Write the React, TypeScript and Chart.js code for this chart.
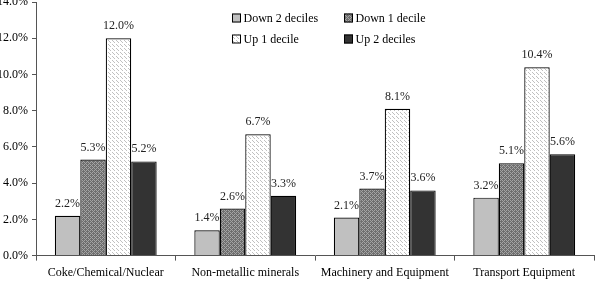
import React, { useEffect, useRef } from "react";
import { Chart, registerables } from "chart.js";
Chart.register(...registerables);

const categories = ["Coke/Chemical/Nuclear", "Non-metallic minerals", "Machinery and Equipment", "Transport Equipment"];
const seriesLabels = ["Down 2 deciles", "Down 1 decile", "Up 1 decile", "Up 2 deciles"];
const down2 = [2.2, 1.4, 2.1, 3.2];
const down1 = [5.3, 2.6, 3.7, 5.1];
const up1 = [12.0, 6.7, 8.1, 10.4];
const up2 = [5.2, 3.3, 3.6, 5.6];
const yMin = 0;
const yMax = 14;
const yStep = 2;

const FONT = "'Liberation Serif', Tinos, 'Times New Roman', serif";

function makePattern(bg: string, dot: string, size: number, dots: number[][]) {
  const c = document.createElement("canvas");
  c.width = size;
  c.height = size;
  const ctx = c.getContext("2d")!;
  ctx.fillStyle = bg;
  ctx.fillRect(0, 0, size, size);
  ctx.fillStyle = dot;
  dots.forEach(([x, y]) => ctx.fillRect(x, y, 1, 1));
  const p = document.createElement("canvas").getContext("2d")!.createPattern(c, "repeat");
  return p as CanvasPattern;
}

export default function App() {
  const ref = useRef<HTMLCanvasElement>(null);
  useEffect(() => {
    document.body.style.margin = "0";
    const fills: any[] = [
      "#c0c0c0",
      makePattern("#6e6e6e", "#a4a4a4", 4, [[0, 0], [2, 2], [2, 0], [0, 2], [1, 3], [3, 1]]),
      makePattern("#ffffff", "#c0c0c0", 4, [[0, 0], [2, 2], [1, 1]]),
      "#333333",
    ];
    const seriesData = [down2, down1, up1, up2];

    const labelPlugin = {
      id: "valueLabels",
      afterDatasetsDraw(chart: any) {
        const ctx = chart.ctx;
        ctx.save();
        ctx.font = `12px ${FONT}`;
        ctx.fillStyle = "#222";
        ctx.textAlign = "center";
        ctx.textBaseline = "alphabetic";
        chart.data.datasets.forEach((ds: any, i: number) => {
          const meta = chart.getDatasetMeta(i);
          meta.data.forEach((bar: any, j: number) => {
            ctx.fillText(ds.data[j].toFixed(1) + "%", bar.x, bar.y - 9);
          });
        });
        ctx.restore();
      },
    };

    const legendPlugin = {
      id: "gridLegend",
      afterDraw(chart: any) {
        const ctx = chart.ctx;
        ctx.save();
        ctx.font = `12px ${FONT}`;
        ctx.textBaseline = "middle";
        ctx.textAlign = "left";
        const cols = [232, 344];
        const rows = [18.5, 39.5];
        chart.data.datasets.forEach((ds: any, i: number) => {
          const x = cols[i % 2];
          const y = rows[Math.floor(i / 2)];
          ctx.fillStyle = ds.backgroundColor;
          ctx.fillRect(x, y - 5, 9, 9);
          ctx.strokeStyle = "#000";
          ctx.lineWidth = 1;
          ctx.strokeRect(x + 0.5, y - 4.5, 8, 8);
          ctx.fillStyle = "#000";
          ctx.fillText(ds.label, x + 11.5, y + 0.5);
        });
        ctx.restore();
      },
    };

    const chart = new Chart(ref.current!, {
      type: "bar",
      data: {
        labels: categories,
        datasets: seriesLabels.map((l, i) => ({
          label: l,
          data: seriesData[i],
          backgroundColor: fills[i],
          borderColor: "#000",
          borderWidth: 1.2,
          categoryPercentage: 0.73,
          barPercentage: 1,
        })),
      },
      options: {
        responsive: false,
        animation: false,
        events: [],
        layout: { padding: { top: 2, right: 3, left: 0, bottom: 3 } },
        plugins: { legend: { display: false }, tooltip: { enabled: false } },
        scales: {
          x: {
            grid: { display: true, drawOnChartArea: false, offset: true, tickLength: 5, color: "#555" },
            border: { color: "#555", width: 1 },
            ticks: { color: "#000", font: { family: FONT, size: 12 }, padding: 5, maxRotation: 0 },
            afterFit: (s: any) => {
              s.paddingLeft = 0;
              s.paddingRight = 0;
            },
          },
          y: {
            min: yMin,
            max: yMax,
            grid: { display: true, drawOnChartArea: false, tickLength: 4, color: "#555" },
            border: { color: "#555", width: 1 },
            ticks: {
              stepSize: yStep,
              color: "#000",
              padding: 4,
              font: { family: FONT, size: 12 },
              callback: (v: any) => Number(v).toFixed(1) + "%",
            },
            afterFit: (s: any) => {
              s.width = 36;
              s.paddingTop = 0;
              s.paddingBottom = 0;
            },
          },
        },
      },
      plugins: [labelPlugin, legendPlugin],
    });
    return () => chart.destroy();
  }, []);
  return (
    <div style={{ width: 597, height: 288 }}>
      <canvas ref={ref} width={597} height={288} />
    </div>
  );
}
